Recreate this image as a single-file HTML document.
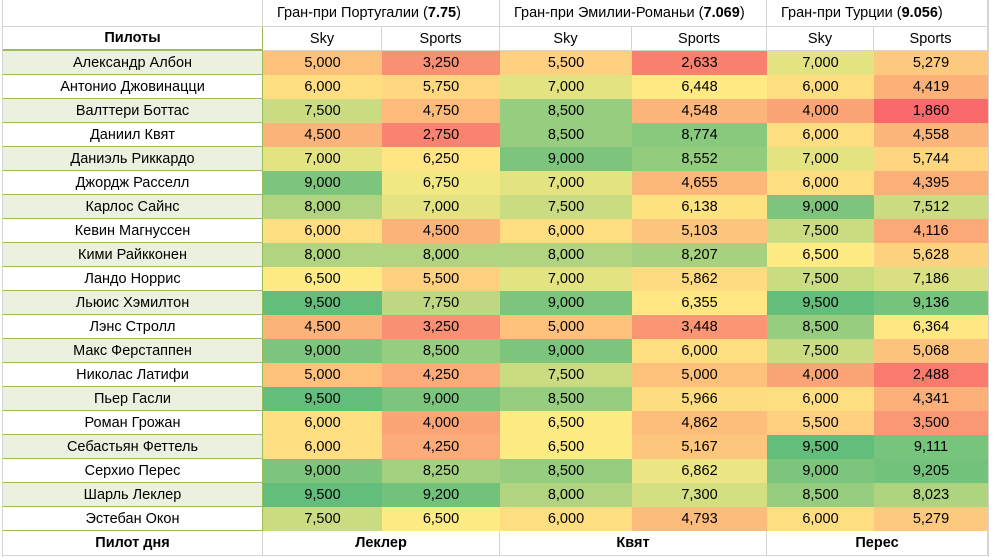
<!DOCTYPE html>
<html><head><meta charset="utf-8">
<style>
body{margin:0;background:#fff;width:993px;height:557px;overflow:hidden;font-family:"Liberation Sans","DejaVu Sans",sans-serif;font-size:14.5px;color:#000}
#wrap{position:absolute;left:0;top:0;width:993px;height:557px}
.c{position:absolute;box-sizing:border-box;display:flex;align-items:center;justify-content:center;white-space:nowrap}
.g{border-right:1px solid #d4d4d4;border-bottom:1px solid #d4d4d4}
</style></head><body>
<div id="wrap"></div>
<script>
const pilots=["Александр Албон","Антонио Джовинацци","Валттери Боттас","Даниил Квят","Даниэль Риккардо","Джордж Расселл","Карлос Сайнс","Кевин Магнуссен","Кими Райкконен","Ландо Норрис","Льюис Хэмилтон","Лэнс Стролл","Макс Ферстаппен","Николас Латифи","Пьер Гасли","Роман Грожан","Себастьян Феттель","Серхио Перес","Шарль Леклер","Эстебан Окон"];
const races=["Гран-при Португалии","Гран-при Эмилии-Романьи","Гран-при Турции"];
const raceRatings=["7.75","7.069","9.056"];
const winners=["Леклер","Квят","Перес"];
const portSky=[5000,6000,7500,4500,7000,9000,8000,6000,8000,6500,9500,4500,9000,5000,9500,6000,6000,9000,9500,7500];
const portSports=[3250,5750,4750,2750,6250,6750,7000,4500,8000,5500,7750,3250,8500,4250,9000,4000,4250,8250,9200,6500];
const emiSky=[5500,7000,8500,8500,9000,7000,7500,6000,8000,7000,9000,5000,9000,7500,8500,6500,6500,8500,8000,6000];
const emiSports=[2633,6448,4548,8774,8552,4655,6138,5103,8207,5862,6355,3448,6000,5000,5966,4862,5167,6862,7300,4793];
const turSky=[7000,6000,4000,6000,7000,6000,9000,7500,6500,7500,9500,8500,7500,4000,6000,5500,9500,9000,8500,6000];
const turSports=[5279,4419,1860,4558,5744,4395,7512,4116,5628,7186,9136,6364,5068,2488,4341,3500,9111,9205,8023,5279];
const series=[portSky,portSports,emiSky,emiSports,turSky,turSports];

const colX=[3,263,382,500,632,767,874,988];
const rowH=24, r1=27, r2=51;
const W=document.getElementById('wrap');
function cell(x,y,w,h,txt,cls,bg,extra){
  const d=document.createElement('div');
  d.className='c '+(cls||'');
  d.style.left=x+'px';d.style.top=y+'px';d.style.width=w+'px';d.style.height=h+'px';
  if(bg)d.style.background=bg;
  if(extra)Object.assign(d.style,extra);
  d.innerHTML=txt;
  W.appendChild(d);return d;
}
// grid background
for(let i=0;i<23;i++){}
const all=[].concat(...series).slice().sort((a,b)=>a-b);
const vmin=all[0],vmax=all[all.length-1];
const vmid=(all[all.length/2-1]+all[all.length/2])/2;
const R=[248,105,107],Y=[255,235,132],G=[99,190,123];
function mix(a,b,t){return 'rgb('+a.map((v,i)=>Math.round(v+(b[i]-v)*t)).join(',')+')';}
function color(v){return v<=vmid?mix(R,Y,(v-vmin)/(vmid-vmin)):mix(Y,G,(v-vmid)/(vmax-vmid));}

// header row 1
let d=cell(colX[0],0,colX[1]-colX[0],r1,'','g');

races.forEach((r,i)=>{
  const x=colX[1+2*i],w=colX[3+2*i]-x;
  const h=cell(x,0,w,r1,r+' (<b>'+raceRatings[i]+'</b>)','g',null,{justifyContent:'flex-start',paddingLeft:'14px'});
  
  
});
// header row 2
d=cell(colX[0],r1,colX[1]-colX[0],r2-r1,'<b>Пилоты</b>','',null,{borderBottom:'2px solid #9bbb59',borderRight:'1px solid #9bbb59'});

for(let j=0;j<6;j++){
  const s=cell(colX[1+j],r1,colX[2+j]-colX[1+j],r2-r1,j%2?'Sports':'Sky','g');
  
  
}
// data rows
pilots.forEach((p,i)=>{
  const y=r2+i*rowH;
  const n=cell(colX[0],y,colX[1]-colX[0],rowH,p,'',i%2===0?'#ebf1de':'#fff',{borderBottom:'1px solid #9bbb59',borderRight:'1px solid #9bbb59'});
  
  
  series.forEach((s,j)=>{
    const v=s[i];
    const c=cell(colX[1+j],y,colX[2+j]-colX[1+j],rowH,v.toLocaleString('en-US'),'',color(v));
    
    
  });
});
// footer
const fy=r2+pilots.length*rowH;
d=cell(colX[0],fy,colX[1]-colX[0],557-fy-1,'<b>Пилот дня</b>','g');

winners.forEach((w,i)=>{
  const x=colX[1+2*i],ww=colX[3+2*i]-x;
  const f=cell(x,fy,ww,557-fy-1,'<b>'+w+'</b>','g');
  
  
});
// left gridline strip and right area
d=cell(0,0,3,557,'','',null,{borderRight:'1px solid #d4d4d4'});

d=cell(988,0,5,557,'','',null,{borderLeft:'1px solid #d4d4d4'});

</script>
</body></html>
